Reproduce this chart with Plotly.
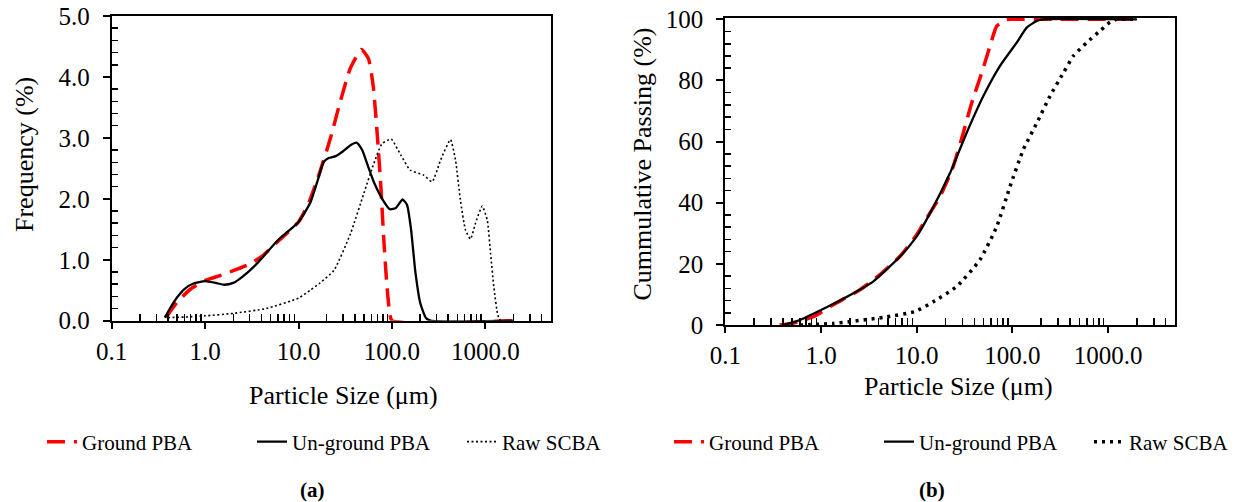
import math
import plotly.graph_objects as go

# ---------------- data: (a) frequency distribution ----------------
size_a_ground = [0.38, 0.5, 0.7, 1.0, 1.5, 2.0, 3.0, 4.0, 6.0, 10, 13, 17, 22, 28, 36, 47, 56, 63, 70, 76, 82, 88, 94, 100, 2000]
freq_ground = [0.05, 0.3, 0.52, 0.66, 0.75, 0.82, 0.93, 1.05, 1.3, 1.62, 1.95, 2.45, 3.0, 3.6, 4.15, 4.45, 4.3, 3.85, 3.0, 2.2, 1.3, 0.6, 0.15, 0.0, 0.0]

size_a_unground = [0.37, 0.42, 0.5, 0.6, 0.75, 1.0, 1.3, 1.6, 2.0, 2.5, 3.6, 6.0, 10, 13.3, 16, 18.5, 21, 25, 30, 36, 42, 48, 55, 65, 80, 95, 110, 130, 145, 160, 178, 200, 230, 260, 2000]
freq_unground = [0.05, 0.2, 0.38, 0.52, 0.61, 0.65, 0.62, 0.59, 0.62, 0.72, 0.94, 1.32, 1.62, 1.93, 2.3, 2.6, 2.67, 2.7, 2.78, 2.88, 2.92, 2.8, 2.55, 2.25, 1.98, 1.83, 1.85, 1.99, 1.9, 1.5, 0.8, 0.3, 0.05, 0.0, 0.0]

size_a_raw = [0.4, 0.6, 1.0, 2.0, 4.5, 10, 13.3, 17, 24, 36, 50, 64, 78, 98, 124, 157, 218, 269, 332, 423, 478, 540, 612, 692, 783, 925, 1047, 1136, 1230, 1358, 1450]
freq_raw = [0.05, 0.06, 0.08, 0.12, 0.2, 0.37, 0.5, 0.62, 0.83, 1.43, 2.09, 2.58, 2.9, 2.98, 2.72, 2.47, 2.39, 2.28, 2.64, 2.97, 2.64, 1.98, 1.49, 1.34, 1.6, 1.88, 1.65, 1.1, 0.56, 0.09, 0.0]

# ---------------- data: (b) cumulative passing ----------------
size_b_ground = [0.37, 0.5, 0.83, 1.34, 2.55, 4.1, 6.7, 10, 11.8, 17.5, 24.1, 30.7, 37.6, 47.8, 58.4, 68.6, 87, 100, 2000]
cum_ground = [0.0, 0.5, 2.7, 6.6, 11.5, 16.4, 22.5, 29.5, 33.3, 42, 51.9, 62.9, 72.7, 82.5, 91.3, 97.8, 99.9, 100, 100]

size_b_unground = [0.4, 0.6, 1.0, 1.34, 2.18, 3.5, 6.7, 10, 13.8, 22.3, 33.3, 49.7, 74, 111, 141, 180, 210, 2000]
cum_unground = [0.0, 1.6, 4.9, 6.9, 10.4, 14.2, 22.4, 29, 36.6, 49.7, 62.9, 74.9, 84.7, 92.4, 97.3, 99.5, 100, 100]

size_b_raw = [0.6, 1.34, 4.5, 9.6, 14.9, 26.2, 45.7, 68.6, 94.4, 130, 180, 247, 341, 433, 597, 822, 1047, 1230, 2000]
cum_raw = [0.0, 0.5, 2.5, 4.4, 7.6, 12.6, 21.3, 32.2, 45.3, 57.4, 66.1, 74.9, 82.5, 88, 92.4, 96.2, 99.1, 100, 100]

series_names = ["Ground PBA", "Un-ground PBA", "Raw SCBA"]
x_major = [0.1, 1, 10, 100, 1000]
x_major_text = ["0.1", "1.0", "10.0", "100.0", "1000.0"]
ya_major = [0, 1, 2, 3, 4, 5]
ya_major_text = ["0.0", "1.0", "2.0", "3.0", "4.0", "5.0"]
yb_major = [0, 20, 40, 60, 80, 100]
yb_major_text = ["0", "20", "40", "60", "80", "100"]

# ---------------- figure ----------------
W, H = 1237, 502
FONT = "Liberation Serif"
RED = "#FF0000"

def px_x(p):
    return p / W

def px_y(p):
    return 1 - p / H

fig = go.Figure()

red_line = dict(color=RED, width=3.5, dash="18px,9px", shape="spline", smoothing=0.5)
blk_line = dict(color="black", width=2.3, shape="spline", smoothing=0.5)

fig.add_trace(go.Scatter(x=size_a_ground, y=freq_ground, mode="lines", name=series_names[0],
                         line=red_line, xaxis="x", yaxis="y", legend="legend"))
fig.add_trace(go.Scatter(x=size_a_unground, y=freq_unground, mode="lines", name=series_names[1],
                         line=blk_line, xaxis="x", yaxis="y", legend="legend"))
fig.add_trace(go.Scatter(x=size_a_raw, y=freq_raw, mode="lines", name=series_names[2],
                         line=dict(color="black", width=1.6, dash="2px,2.5px", shape="spline", smoothing=0.5),
                         xaxis="x", yaxis="y", legend="legend"))

fig.add_trace(go.Scatter(x=size_b_ground, y=cum_ground, mode="lines", name=series_names[0],
                         line=red_line, xaxis="x2", yaxis="y2", legend="legend2"))
fig.add_trace(go.Scatter(x=size_b_unground, y=cum_unground, mode="lines", name=series_names[1],
                         line=blk_line, xaxis="x2", yaxis="y2", legend="legend2"))
fig.add_trace(go.Scatter(x=size_b_raw, y=cum_raw, mode="lines", name=series_names[2],
                         line=dict(color="black", width=3.5, dash="3px,5px", shape="spline", smoothing=0.5),
                         xaxis="x2", yaxis="y2", legend="legend2"))

x_minor = [k * 10 ** e for e in range(-1, 4) for k in range(2, 10) if k * 10 ** e < 5000]
ya_minor = [round(i * 0.2, 1) for i in range(26) if i % 5 != 0]
yb_minor = [i * 4 for i in range(26) if i % 5 != 0]

def xaxis_cfg(domain, anchor):
    return dict(type="log", range=[-1, math.log10(5000)], domain=domain, anchor=anchor,
                automargin=False,
                showline=True, linecolor="black", linewidth=2, mirror=True,
                showgrid=False, zeroline=False,
                tickmode="array", tickvals=x_major, ticktext=x_major_text,
                ticks="outside", ticklen=6, tickwidth=2, tickcolor="black",
                ticklabelstandoff=1, ticklabeloverflow="allow",
                tickfont=dict(family=FONT, size=25, color="black"),
                minor=dict(tickmode="array", tickvals=x_minor, ticks="inside", ticklen=7,
                           tickwidth=1.5, tickcolor="black", showgrid=False))

def yaxis_cfg(domain, anchor, rng, vals, text, minor_vals):
    return dict(range=rng, domain=domain, anchor=anchor,
                automargin=False,
                showline=True, linecolor="black", linewidth=2, mirror=True,
                showgrid=False, zeroline=False,
                tickmode="array", tickvals=vals, ticktext=text,
                ticks="outside", ticklen=7, tickwidth=2, tickcolor="black",
                ticklabelstandoff=8, ticklabeloverflow="allow",
                tickfont=dict(family=FONT, size=25, color="black"),
                minor=dict(tickmode="array", tickvals=minor_vals, ticks="inside", ticklen=6,
                           tickwidth=1.5, tickcolor="black", showgrid=False))

fig.update_layout(
    template="none",
    width=W, height=H,
    margin=dict(l=0, r=0, t=0, b=0, pad=0, autoexpand=False),
    paper_bgcolor="white", plot_bgcolor="white",
    font=dict(family=FONT, color="black"),
    xaxis=xaxis_cfg([px_x(111.7), px_x(550.7)], "y"),
    yaxis=yaxis_cfg([px_y(320.7), px_y(16)], "x", [0, 5], ya_major, ya_major_text, ya_minor),
    xaxis2=xaxis_cfg([px_x(725.3), px_x(1175)], "y2"),
    yaxis2=yaxis_cfg([px_y(325), px_y(17.5)], "x2", [0, 100.6], yb_major, yb_major_text, yb_minor),
    legend=dict(orientation="h", x=px_x(42), xanchor="left", y=px_y(442), yanchor="middle",
                font=dict(family=FONT, size=21, color="black"), bgcolor="rgba(0,0,0,0)",
                entrywidth=165, traceorder="normal"),
    legend2=dict(orientation="h", x=px_x(669), xanchor="left", y=px_y(442), yanchor="middle",
                 font=dict(family=FONT, size=21, color="black"), bgcolor="rgba(0,0,0,0)",
                 entrywidth=165, traceorder="normal"),
    showlegend=True,
)

annots = [
    dict(text="Frequency (%)", x=px_x(25), y=px_y(155), textangle=-90, size=26),
    dict(text="Cummulative Passing (%)", x=px_x(642.5), y=px_y(164), textangle=-90, size=26),
    dict(text="Particle Size (μm)", x=px_x(343), y=px_y(395), textangle=0, size=26),
    dict(text="Particle Size (μm)", x=px_x(958), y=px_y(386), textangle=0, size=26),
    dict(text="<b>(a)</b>", x=px_x(312), y=px_y(490), textangle=0, size=21),
    dict(text="<b>(b)</b>", x=px_x(932), y=px_y(490), textangle=0, size=21),
]
for a in annots:
    fig.add_annotation(text=a["text"], x=a["x"], y=a["y"], xref="paper", yref="paper",
                       xanchor="center", yanchor="middle", showarrow=False, textangle=a["textangle"],
                       font=dict(family=FONT, size=a["size"], color="black"))

fig.write_html("out.html",
               config={"displayModeBar": False, "staticPlot": True},
               post_script="document.body.style.margin='0';document.body.style.overflow='hidden';")
